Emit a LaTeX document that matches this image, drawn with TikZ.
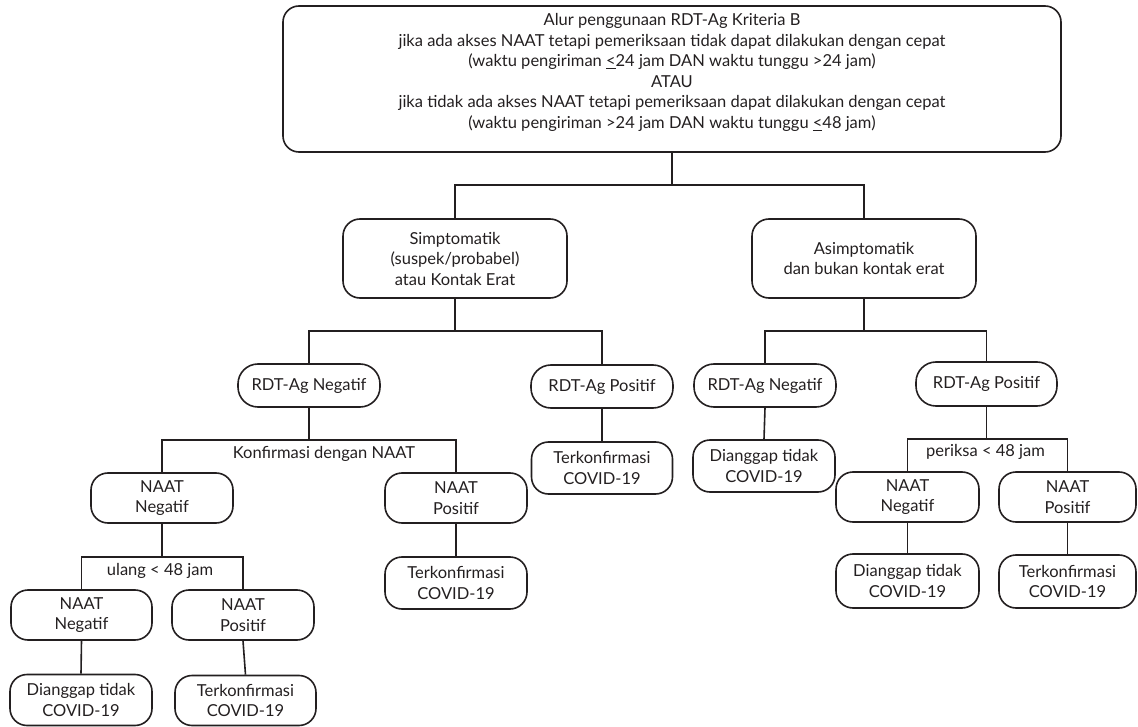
\documentclass[tikz,border=0pt]{standalone}
\usepackage{fontspec}
\setmainfont{Lato}
\definecolor{ink}{RGB}{35,31,32}
\begin{document}
\begin{tikzpicture}[x=1pt,y=-1pt,
  txt/.style={font=\fontsize{16.5}{20.5}\selectfont, text=ink, align=center, inner sep=0pt},
  box/.style={txt, draw=ink, line width=1.6pt, rounded corners=17pt},
  pill/.style={box, rounded corners=20pt},
  conn/.style={draw=ink, line width=1.6pt},
  lbl/.style={txt}]
\useasboundingbox (0,0) rectangle (1138,727);
% top
\node[box, rounded corners=16pt, minimum width=778pt, minimum height=146pt] (top) at (672,79) {};
\node[txt] (toptext) at (672,72.5) {Alur penggunaan RDT-Ag Kriteria B\\
jika ada akses NAAT tetapi pemeriksaan tidak dapat dilakukan dengan cepat\\
(waktu pengiriman \underline{<}24 jam DAN waktu tunggu >24 jam)\\
ATAU\\
jika tidak ada akses NAAT tetapi pemeriksaan dapat dilakukan dengan cepat\\
(waktu pengiriman >24 jam DAN waktu tunggu \underline{<}48 jam)};
% level 1
\node[box, minimum width=224pt, minimum height=79pt] (simp) at (455,258.5) {Simptomatik\\(suspek/probabel)\\atau Kontak Erat};
\node[box, minimum width=224pt, minimum height=79pt] (asimp) at (864,258.5) {Asimptomatik\\dan bukan kontak erat};
% level 2
\node[pill, minimum width=142pt, minimum height=43pt] (rneg1) at (309,385.5) {RDT-Ag Negatif};
\node[pill, minimum width=142pt, minimum height=43pt] (rpos1) at (602,386.5) {RDT-Ag Positif};
\node[pill, minimum width=142pt, minimum height=43pt] (rneg2) at (765,385.5) {RDT-Ag Negatif};
\node[pill, minimum width=141pt, minimum height=44pt] (rpos2) at (986.5,384) {RDT-Ag Positif};
% level 3
\node[box, minimum width=141pt, minimum height=52pt] (terk1) at (602,468) {Terkonfirmasi\\COVID-19};
\node[box, minimum width=142pt, minimum height=52pt] (dian1) at (764,466) {Dianggap tidak\\COVID-19};
\node[box, minimum width=142pt, minimum height=50pt] (naatN1) at (162,498) {NAAT\\Negatif};
\node[box, minimum width=142pt, minimum height=50pt] (naatP1) at (456,498) {NAAT\\Positif};
\node[box, minimum width=143pt, minimum height=50pt] (naatN3) at (907.5,497) {NAAT\\Negatif};
\node[box, minimum width=137pt, minimum height=50pt] (naatP3) at (1067.5,497) {NAAT\\Positif};
% level 4
\node[box, minimum width=142pt, minimum height=52pt] (terk2) at (456,583) {Terkonfirmasi\\COVID-19};
\node[box, minimum width=143pt, minimum height=54pt] (dian3) at (907.5,581) {Dianggap tidak\\COVID-19};
\node[box, minimum width=137pt, minimum height=53pt] (terk4) at (1067.5,581.5) {Terkonfirmasi\\COVID-19};
\node[box, minimum width=141pt, minimum height=50pt] (naatN2) at (81.5,615) {NAAT\\Negatif};
\node[box, minimum width=142pt, minimum height=50pt] (naatP2) at (243,615) {NAAT\\Positif};
% level 5
\node[box, minimum width=142pt, minimum height=51pt] (dian2) at (81,700) {Dianggap tidak\\COVID-19};
\node[box, minimum width=141pt, minimum height=50pt] (terk3) at (245.5,700.5) {Terkonfirmasi\\COVID-19};
% labels
\node[lbl] (konf) at (324,454) {Konfirmasi dengan NAAT};
\node[lbl] (ulang) at (160,571) {ulang < 48 jam};
\node[lbl] (periksa) at (985.5,452) {periksa < 48 jam};
% connectors
\draw[conn] (top.south) -- (top.south |- 0,185);
\draw[conn] (simp.north) -- (simp.north |- 0,185) -- (asimp.north |- 0,185) -- (asimp.north);
\draw[conn] (simp.south) -- (simp.south |- 0,331);
\draw[conn] (rneg1.north) -- (rneg1.north |- 0,331) -- (rpos1.north |- 0,331) -- (rpos1.north);
\draw[conn] (asimp.south) -- (asimp.south |- 0,331);
\draw[conn] (rneg2.north) -- (rneg2.north |- 0,331) -- (rpos2.north |- 0,331) -- (rpos2.north);
\draw[conn] (rneg1.south) -- (rneg1.south |- 0,440);
\draw[conn] (naatN1.north) -- (naatN1.north |- 0,440) -- (naatP1.north |- 0,440) -- (naatP1.north);
\draw[conn] (rpos1.south) -- (terk1.north);
\draw[conn] (rneg2.south) -- (dian1.north);
\draw[conn] (rpos2.south) -- (rpos2.south |- 0,439);
\draw[conn] (naatN3.north) -- (naatN3.north |- 0,439) -- (naatP3.north |- 0,439) -- (naatP3.north);
\draw[conn] (naatN3.south) -- (dian3.north);
\draw[conn] (naatP3.south) -- (terk4.north);
\draw[conn] (naatP1.south) -- (terk2.north);
\draw[conn] (naatN1.south) -- (naatN1.south |- 0,557);
\draw[conn] (naatN2.north) -- (naatN2.north |- 0,557) -- (naatP2.north |- 0,557) -- (naatP2.north);
\draw[conn] (naatN2.south) -- (dian2.north);
\draw[conn] (naatP2.south) -- (terk3.north);
\end{tikzpicture}
\end{document}
